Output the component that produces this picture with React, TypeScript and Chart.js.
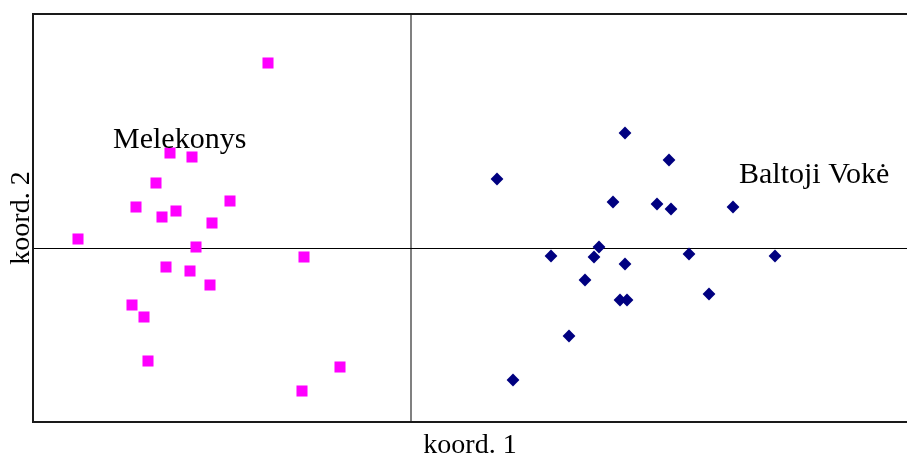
import React, { useEffect, useRef } from "react";
import { Chart, registerables } from "chart.js";

Chart.register(...registerables);

// Melekonys (magenta squares)
const melekonysX = [-1.43, -2.41, -2.19, -2.55, -2.75, -2.35, -2.49, -1.81, -1.99, -3.33, -2.15, -1.07, -2.45, -2.21, -2.01, -2.79, -2.67, -2.63, -0.71, -1.09];
const melekonysY = [1.85, 0.95, 0.91, 0.65, 0.41, 0.37, 0.31, 0.47, 0.25, 0.09, 0.01, -0.09, -0.19, -0.23, -0.37, -0.57, -0.69, -1.13, -1.19, -1.43];

// Baltoji Vokė (navy diamonds)
const baltojiX = [2.14, 2.58, 0.86, 2.02, 2.46, 2.6, 3.22, 1.88, 1.4, 1.83, 2.78, 3.64, 2.14, 1.74, 2.98, 2.09, 2.16, 1.58, 1.02];
const baltojiY = [1.15, 0.88, 0.69, 0.46, 0.44, 0.39, 0.41, 0.01, -0.08, -0.09, -0.06, -0.08, -0.16, -0.32, -0.46, -0.52, -0.52, -0.88, -1.32];

// Axis ranges
const xRange = [-3.78, 4.96];
const yRange = [-1.74, 2.34];

// Group labels (text, anchor in data units)
const groupLabels = ["Melekonys", "Baltoji Vokė"];
const groupLabelX = [-2.98, 3.28];
const groupLabelY = [1.0, 0.65];

const axisTitles = ["koord. 1", "koord. 2"];

const SERIF = '"Liberation Serif", "Times New Roman", serif';

const framePlugin = {
  id: "frameAndZero",
  beforeDatasetsDraw(chart: any) {
    const { ctx, chartArea, scales } = chart;
    const x0 = scales.x.getPixelForValue(0);
    const y0 = scales.y.getPixelForValue(0);
    ctx.save();
    // zero lines
    ctx.strokeStyle = "#808080";
    ctx.lineWidth = 2;
    ctx.beginPath();
    ctx.moveTo(x0, chartArea.top);
    ctx.lineTo(x0, chartArea.bottom);
    ctx.stroke();
    ctx.strokeStyle = "#000000";
    ctx.lineWidth = 1;
    ctx.beginPath();
    ctx.moveTo(chartArea.left, Math.round(y0) + 0.5);
    ctx.lineTo(chartArea.right, Math.round(y0) + 0.5);
    ctx.stroke();
    // frame (left, top, bottom)
    ctx.strokeStyle = "#1a1a1a";
    ctx.lineWidth = 2;
    ctx.beginPath();
    ctx.moveTo(chartArea.right + 2, chartArea.top);
    ctx.lineTo(chartArea.left, chartArea.top);
    ctx.lineTo(chartArea.left, chartArea.bottom);
    ctx.lineTo(chartArea.right + 2, chartArea.bottom);
    ctx.stroke();
    ctx.restore();
  },
  afterDatasetsDraw(chart: any) {
    const { ctx, scales } = chart;
    ctx.save();
    ctx.fillStyle = "#000000";
    ctx.font = "30px " + SERIF;
    ctx.textAlign = "left";
    ctx.textBaseline = "alphabetic";
    groupLabels.forEach((t, i) => {
      ctx.fillText(t, scales.x.getPixelForValue(groupLabelX[i]), scales.y.getPixelForValue(groupLabelY[i]));
    });
    ctx.restore();
  },
};

export default function App() {
  const ref = useRef<HTMLCanvasElement | null>(null);
  useEffect(() => {
    if (!ref.current) return;
    const chart = new Chart(ref.current, {
      type: "scatter",
      data: {
        datasets: [
          {
            label: "Melekonys",
            data: melekonysX.map((x, i) => ({ x, y: melekonysY[i] })),
            pointStyle: "rect",
            pointRadius: 7.8,
            pointBorderWidth: 0,
            backgroundColor: "#FF00FF",
            borderColor: "#FF00FF",
          },
          {
            label: "Baltoji Vokė",
            data: baltojiX.map((x, i) => ({ x, y: baltojiY[i] })),
            pointStyle: "rectRot",
            pointRadius: 6.4,
            pointBorderWidth: 0,
            backgroundColor: "#000080",
            borderColor: "#000080",
          },
        ],
      },
      options: {
        responsive: false,
        animation: false,
        layout: { autoPadding: false, padding: { top: 14, right: 0, left: 0, bottom: 0 } },
        plugins: { legend: { display: false }, tooltip: { enabled: false } },
        scales: {
          x: {
            type: "linear",
            min: xRange[0],
            max: xRange[1],
            ticks: { display: false },
            grid: { display: false },
            border: { display: false },
            title: {
              display: true,
              text: axisTitles[0],
              color: "#000000",
              font: { family: SERIF, size: 28, lineHeight: 1.2 },
              padding: { top: 0, bottom: -5 },
            },
            afterFit: (s: any) => {
              s.height = 35;
              s.paddingLeft = 0;
              s.paddingRight = 0;
            },
          },
          y: {
            type: "linear",
            min: yRange[0],
            max: yRange[1],
            ticks: { display: false },
            grid: { display: false },
            border: { display: false },
            title: {
              display: true,
              text: axisTitles[1],
              color: "#000000",
              font: { family: SERIF, size: 28, lineHeight: 1.2 },
              padding: { top: 5, bottom: 0 },
            },
            afterFit: (s: any) => {
              s.width = 33;
              s.paddingTop = 0;
              s.paddingBottom = 0;
            },
          },
        },
      },
      plugins: [framePlugin],
    });
    return () => chart.destroy();
  }, []);
  return (
    <div style={{ position: "fixed", left: 0, top: 0, width: 907, height: 457, background: "#fff", overflow: "hidden" }}>
      <canvas ref={ref} width={907} height={457} style={{ display: "block" }} />
    </div>
  );
}
